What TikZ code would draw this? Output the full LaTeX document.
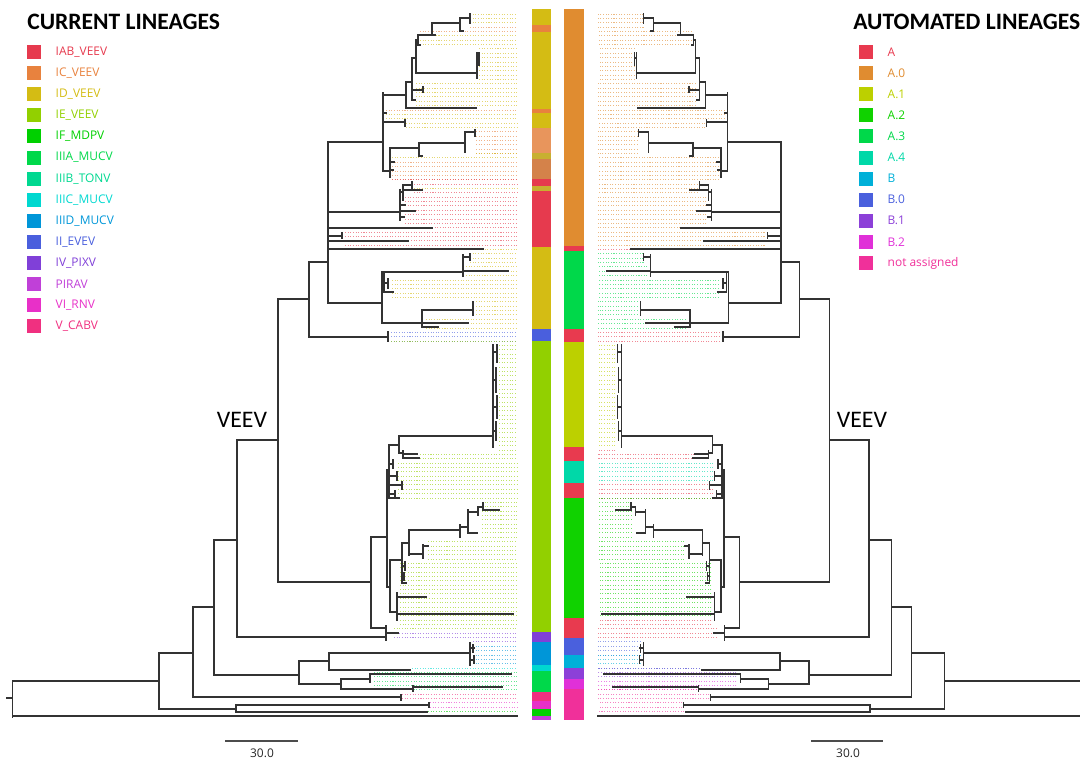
\documentclass[tikz,border=0pt]{standalone}
\usepackage{fontspec}
\setmainfont{Open Sans}
\newfontfamily\headfont{Carlito}
\usetikzlibrary{positioning}

% current lineages
\definecolor{cIAB}{HTML}{E63A4E}
\definecolor{cIC}{HTML}{E8823E}
\definecolor{cICl}{HTML}{E8955C}
\definecolor{cICd}{HTML}{D4824A}
\definecolor{cID}{HTML}{D4BC14}
\definecolor{cIDo}{HTML}{C8B030}
\definecolor{cIE}{HTML}{92D000}
\definecolor{cIF}{HTML}{00D000}
\definecolor{cIIIA}{HTML}{00D84A}
\definecolor{cIIIB}{HTML}{00D890}
\definecolor{cIIIC}{HTML}{00D8D0}
\definecolor{cIIID}{HTML}{0096D8}
\definecolor{cII}{HTML}{4A5FDD}
\definecolor{cIV}{HTML}{8040D8}
\definecolor{cPIRAV}{HTML}{C040D8}
\definecolor{cVI}{HTML}{E830C8}
\definecolor{cV}{HTML}{F03080}
% automated lineages
\definecolor{aA}{HTML}{E83A4F}
\definecolor{aA0}{HTML}{E08C30}
\definecolor{aA1}{HTML}{BCD000}
\definecolor{aA2}{HTML}{10D200}
\definecolor{aA3}{HTML}{00D84A}
\definecolor{aA4}{HTML}{00D8A8}
\definecolor{aB}{HTML}{00B0D8}
\definecolor{aB0}{HTML}{4A60DD}
\definecolor{aB1}{HTML}{8C40D8}
\definecolor{aB2}{HTML}{E030D8}
\definecolor{aNA}{HTML}{F0309A}

% dotted lines from each tip to the aligned end
\newcommand{\leafdots}[1]{%
  \foreach \ka/\kb/\xt in {0/3/470, 4/7/420, 8/15/479, 16/21/416, 22/24/386,
      25/26/406, 27/32/476, 33/38/392, 39/41/414, 42/48/405, 49/54/345,
      55/57/470, 58/60/466, 61/65/392, 66/69/476, 70/72/426, 73/75/391,
      76/100/499, 101/102/412, 103/111/398, 112/120/482, 121/125/428,
      126/140/400, 141/143/394, 144/149/473, 150/150/412, 151/155/374,
      156/157/402, 158/159/430, 160/160/428}{
    \foreach \k in {\ka,...,\kb}
      \draw[leafdot, draw=#1] (\xt,{14+4.36*\k}) -- (517,{14+4.36*\k});
  }}

% the tree, rooted on the left
\newcommand{\veevtree}{%
  % node bars: x / top / bottom
  \foreach \x/\ya/\yb in {12.5/681/717, 159/653/709, 236/705/712, 429/703/707,
      193/607/697, 401/695/700, 214/540/675, 299/661/684, 341/679/689,
      413/686/691, 370/674/682, 329/653/670, 470/643/665, 473/645/652,
      474/656/663, 237/440/637, 386/632/640, 278/299/582, 371/537/628,
      386/626/631, 387/470/587, 389/445/498, 399/436/453, 493/345/447,
      497/345/362, 496/368/392, 497/396/418, 496/422/440, 403/451/458,
      393/460/468, 397/472/480, 402/482/489, 395/491/497, 390/560/612,
      402/543/583, 409/530/555, 460/525/537, 468/510/533, 478/507/515,
      483/503/510, 423/545/558, 405/562/570, 404/573/580, 397/593/620,
      309/262/337, 388/332/341, 328/142/303, 382/272/323, 384/272/292,
      463/255/276, 470/254/260, 388/279/288, 422/310/327, 473/302/315,
      383/93/171, 406/82/108, 412/58/100, 416/40/73, 418/35/45, 432/23/35,
      460/18/31, 470/14/23, 477/53/78, 479/53/65, 423/87/92, 405/120/126,
      390/148/177, 419/143/156, 465/132/152, 475/130/136, 400/190/220,
      403/185/200, 412/182/188, 342/233/238}
    \draw[branch] (\x,\ya) -- (\x,\yb);
  % branches: from / to / height
  \foreach \xa/\xb/\y in {7/12.5/698, 12.5/159/681, 12.5/517/716,
      159/236/709, 236/429/705, 236/427/712, 159/193/653, 193/401/697,
      193/214/607, 214/299/675, 299/341/684, 341/413/689, 413/502/687,
      341/370/679, 370/511/674, 299/329/661, 329/410/670, 329/470/653,
      214/237/540, 237/386/637, 386/398/633, 237/278/440, 278/371/582,
      371/386/628, 371/387/537, 387/389/470, 389/399/445, 399/493/436,
      399/403/453, 403/417/454, 403/419/458, 389/393/464, 389/397/476,
      389/402/485, 389/395/494, 389/399/498, 493/497/352, 493/496/380,
      493/497/407, 493/496/431, 387/390/587, 390/402/560, 402/409/543,
      409/460/530, 460/468/527, 468/478/512, 478/483/507, 483/499/510,
      468/477/533, 409/423/554, 423/428/546, 402/405/566, 402/404/576,
      402/406/583, 390/397/612, 397/426/597, 397/513/614, 470/474/648,
      470/474/660, 278/309/299, 309/388/337, 309/328/262, 328/382/303,
      382/384/272, 384/463/272, 463/470/257, 463/508/271, 384/388/283,
      384/393/292, 382/422/323, 422/473/310, 422/468/323, 422/438/327,
      328/383/142, 383/406/95, 406/412/82, 412/416/58, 416/418/40,
      418/432/35, 432/460/23, 460/470/18, 460/463/31, 432/435/35,
      418/420/45, 416/477/73, 477/479/58, 412/423/90, 412/415/100,
      406/476/108, 383/386/113, 383/405/122, 383/390/171, 390/419/148,
      419/465/143, 465/475/132, 419/422/156, 390/394/162, 390/393/170,
      328/400/212, 400/403/192, 403/412/185, 403/422/190, 400/415/211,
      400/405/205, 400/404/217, 328/432/228, 328/342/236, 328/408/241,
      328/483/249}
    \draw[branch] (\xa,\y) -- (\xb,\y);
}

\begin{document}
\begin{tikzpicture}[
    x=0.02cm, y=-0.02cm,
    branch/.style={draw=black!80, line width=0.7pt, line cap=rect},
    leafdot/.style={line width=0.45pt, dash pattern=on 0.6pt off 0.9pt, draw opacity=0.6},
    legbox/.style={minimum size=0.28cm, inner sep=0pt},
    leglabel/.style={inner sep=0pt, font=\fontsize{6.8}{8}\selectfont},
    heading/.style={inner sep=0pt, anchor=west, font=\headfont\bfseries\fontsize{13.4}{15}\selectfont},
    clade/.style={inner sep=0pt, font=\headfont\fontsize{13.5}{15}\selectfont}
  ]
  \useasboundingbox (0,0) rectangle (1080,761);
  \clip (0,0) rectangle (1080,761);

  % lineage bars
  \foreach \ya/\yb/\c in {9/25/cID, 25/32/cIC, 32/109/cID, 109/113/cIC,
      113/128/cID, 128/153/cICl, 153/159/cIDo, 159/179/cICd, 179/186/cIAB,
      186/191/cIDo, 191/247/cIAB, 247/329/cID, 329/341/cII, 341/632/cIE,
      632/642/cIV, 642/665/cIIID, 665/671/cIIIC, 671/692/cIIIA, 692/701/cV,
      701/709/cVI, 709/716/cIF, 716/720/cPIRAV}
    \fill[fill=\c] (532,\ya) rectangle (551,\yb);
  \foreach \ya/\yb/\c in {9/246/aA0, 246/251/aA, 251/329/aA3, 329/342/aA,
      342/447/aA1, 447/461/aA, 461/483/aA4, 483/498/aA, 498/618/aA2,
      618/638/aA, 638/655/aB0, 655/668/aB, 668/679/aB1, 679/689/aB2,
      689/720/aNA}
    \fill[fill=\c] (564,\ya) rectangle (584,\yb);

  % left tree, current lineages
  \foreach \ya/\yb/\c in {9/25/cID, 25/32/cIC, 32/109/cID, 109/113/cIC,
      113/128/cID, 128/153/cIC, 153/159/cID, 159/179/cIC, 179/186/cIAB,
      186/191/cID, 191/247/cIAB, 247/329/cID, 329/341/cII, 341/632/cIE,
      632/642/cIV, 642/665/cIIID, 665/671/cIIIC, 671/692/cIIIA, 692/701/cV,
      701/709/cVI, 709/720/cIF}{
    \begin{scope}
      \clip (0,\ya) rectangle (530,\yb);
      \leafdots{\c}
    \end{scope}
  }
  \veevtree

  % right tree, automated lineages
  \begin{scope}[shift={(1098.5,0)}, xscale=-0.968]
    \foreach \ya/\yb/\c in {9/246/aA0, 246/251/aA, 251/329/aA3, 329/342/aA,
        342/447/aA1, 447/461/aA, 461/483/aA4, 483/498/aA, 498/618/aA2,
        618/638/aA, 638/655/aB0, 655/668/aB, 668/679/aB1, 679/689/aB2,
        689/720/aNA}{
      \begin{scope}
        \clip (0,\ya) rectangle (530,\yb);
        \leafdots{\c}
      \end{scope}
    }
    \veevtree
  \end{scope}

  % legends
  \node[heading] (curhead) at (27,22) {CURRENT LINEAGES};
  \foreach \lab/\col [count=\i from 0] in {IAB\_VEEV/cIAB, IC\_VEEV/cIC,
      ID\_VEEV/cID, IE\_VEEV/cIE, IF\_MDPV/cIF, IIIA\_MUCV/cIIIA,
      IIIB\_TONV/cIIIB, IIIC\_MUCV/cIIIC, IIID\_MUCV/cIIID, II\_EVEV/cII,
      IV\_PIXV/cIV, PIRAV/cPIRAV, VI\_RNV/cVI, V\_CABV/cV}{
    \node[legbox, fill=\col] (curbox\i) at (34,{52+21.1*\i}) {};
    \node[leglabel, text=\col, right=0.28cm of curbox\i] (curlab\i) {\lab};
  }
  \node[heading] (autohead) at (853,22) {AUTOMATED LINEAGES};
  \foreach \lab/\col [count=\i from 0] in {A/aA, A.0/aA0, A.1/aA1, A.2/aA2,
      A.3/aA3, A.4/aA4, B/aB, B.0/aB0, B.1/aB1, B.2/aB2, not assigned/aNA}{
    \node[legbox, fill=\col] (autobox\i) at (866,{52+21.1*\i}) {};
    \node[leglabel, text=\col, right=0.28cm of autobox\i] (autolab\i) {\lab};
  }

  \node[clade] (veevL) at (242,420) {VEEV};
  \node[clade] (veevR) at (862,420) {VEEV};

  % scale bars
  \coordinate (sbLa) at (226,741);
  \coordinate (sbLb) at (297,741);
  \coordinate (sbRa) at (812,741);
  \coordinate (sbRb) at (882,741);
  \draw[branch, draw=black!70] (sbLa) -- (sbLb);
  \draw[branch, draw=black!70] (sbRa) -- (sbRb);
  \node[leglabel, text=black!85] (scaleL) at (262,753) {30.0};
  \node[leglabel, text=black!85] (scaleR) at (848,753) {30.0};
\end{tikzpicture}
\end{document}
